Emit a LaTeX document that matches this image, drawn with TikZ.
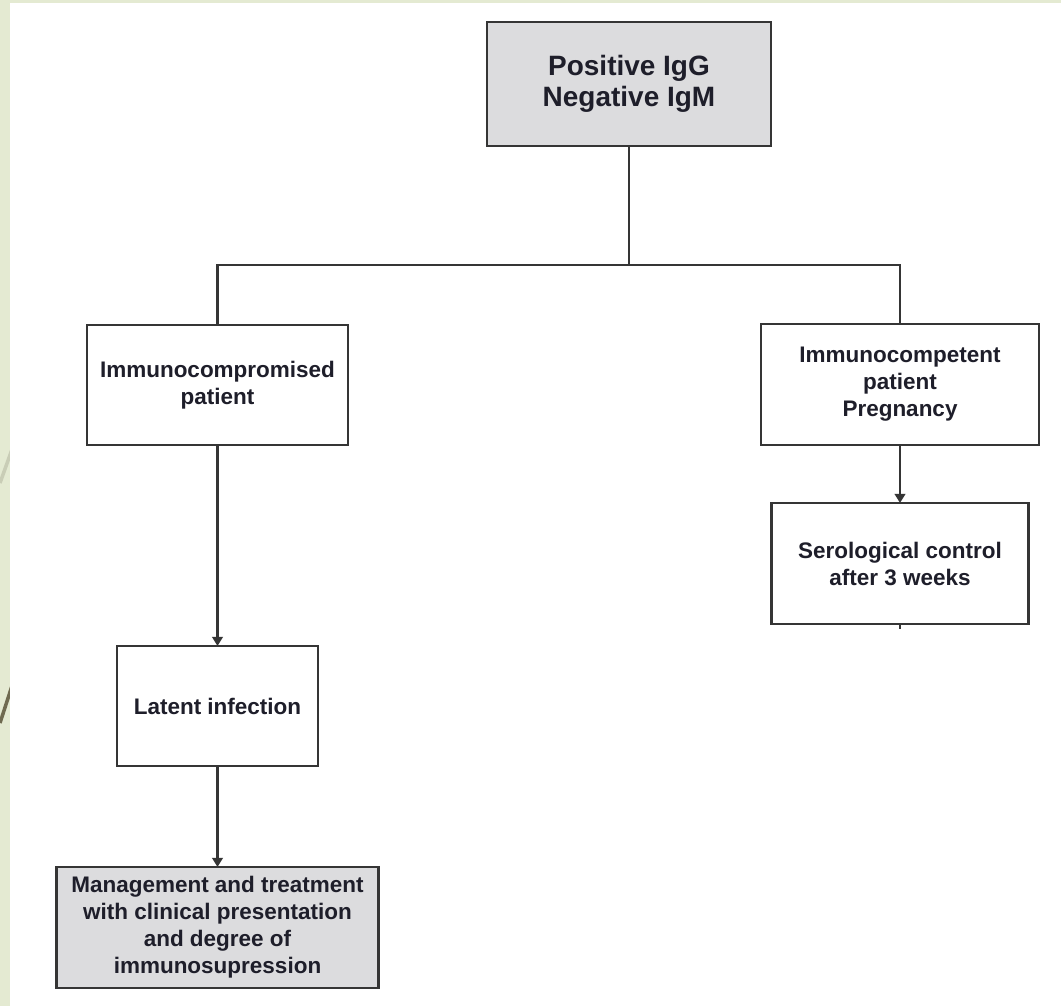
\documentclass[tikz,border=0pt]{standalone}
\usepackage{fontspec}
\setmainfont{Liberation Sans}
\usepackage{xcolor}
\usetikzlibrary{arrows.meta,positioning}

\definecolor{slidegreen}{HTML}{E4EAD2}
\definecolor{boxgray}{HTML}{DCDCDE}
\definecolor{linegray}{HTML}{353535}
\definecolor{inkblue}{HTML}{1E1E2A}
\definecolor{streaklight}{HTML}{C9CDB6}
\definecolor{streakdark}{HTML}{6F6A50}

\begin{document}
\begin{tikzpicture}[
        every node/.style={font=\bfseries\fontsize{16}{19.2}\selectfont, text=inkblue},
        block/.style={draw=linegray, line width=1.7pt, rectangle, align=center, inner sep=0pt, outer sep=0pt},
        arrow/.style={-{Triangle[width=7.5pt,length=6.5pt]}, line width=1.6pt, draw=linegray},
        link/.style={line width=1.6pt, draw=linegray},
    ]
        % Slide background
        \useasboundingbox (0,0) rectangle (26.525,-25.15);
        \fill[slidegreen] (0,0) rectangle (26.525,-25.15);
        \draw[streaklight, line width=2.5pt] (0,-12.075) -- (0.6,-10.395);
        \draw[streakdark, line width=2.5pt] (0,-18.075) -- (0.6,-16.215);
        \fill[white] (0.25,-0.075) rectangle (26.525,-25.15);

        % Top result
        \node (igg) [block, fill=boxgray, minimum width=7.1cm, minimum height=3.1cm, font=\bfseries\fontsize{19.9}{22}\selectfont] at (15.725,-2.1) {Positive IgG\\Negative IgM};

        % Left column (immunocompromised)
        \node (compromised) [block, minimum width=6.525cm, minimum height=3cm] at (5.4375,-9.625) {Immunocompromised\\patient};
        \node (latent) [block, minimum width=5.025cm, minimum height=3cm, below=5.025cm of compromised] {Latent infection};
        \node (management) [block, fill=boxgray, minimum width=8.05cm, minimum height=3.025cm, below=2.525cm of latent] {Management and treatment\\with clinical presentation\\and degree of\\immunosupression};

        % Right column (immunocompetent)
        \node (competent) [block, minimum width=6.95cm, minimum height=3.025cm] at (22.5,-9.6125) {Immunocompetent\\patient\\Pregnancy};
        \node (serology) [block, minimum width=6.425cm, minimum height=3.025cm, below=1.45cm of competent] {Serological control\\after 3 weeks};

        % --- Edges ---
        \coordinate (fork) at ([yshift=-2.975cm]igg.south);
        \draw [link] (igg.south) -- (fork);
        \draw [link] (compromised.north) |- (fork) -| (competent.north);

        \draw [arrow] (compromised) -- (latent);
        \draw [arrow] (latent) -- (management);
        \draw [arrow] (competent) -- (serology);

        % short stub under the serology box
        \coordinate (stub) at ([yshift=-0.12cm]serology.south);
        \draw [link] (serology.south) -- (stub);

    \end{tikzpicture}
\end{document}
